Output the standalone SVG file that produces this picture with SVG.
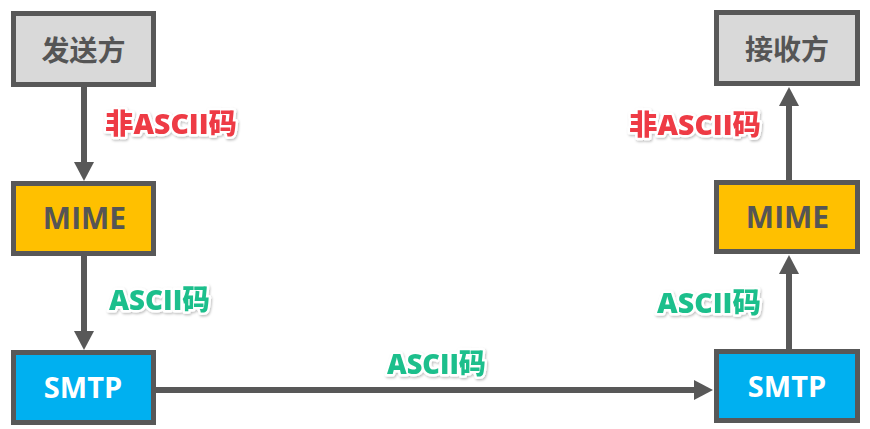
<svg xmlns="http://www.w3.org/2000/svg" width="870" height="429" viewBox="0 0 870 429">
<style>
  .box { stroke: #585858; stroke-width: 5; }
  .gray { fill: #d9d9d9; }
  .orange { fill: #ffc000; }
  .blue { fill: #00b0f0; }
  .nt { font-family: "Open Sans", "Noto Sans CJK SC", sans-serif; font-weight: 700; text-anchor: middle; }
  .dark { fill: #555555; }
  .white { fill: #ffffff; }
  .lbl { font-family: "Open Sans", "Noto Sans CJK SC", sans-serif; font-weight: 800; font-size: 28px; stroke: #ffffff; stroke-width: 5; stroke-linejoin: round; paint-order: stroke; filter: url(#sh); }
  .red { fill: #ee3a45; }
  .green { fill: #1fbf8c; }
  .conn { stroke: #585858; stroke-width: 6; fill: none; marker-end: url(#ah); }
</style>
<defs>
  <marker id="ah" markerUnits="userSpaceOnUse" markerWidth="20" markerHeight="20" refX="10" refY="10" orient="auto" viewBox="0 0 20 20">
    <path d="M0,0 L19,10 L0,20 Z" fill="#585858"/>
  </marker>
  <filter id="sh" x="-10%" y="-30%" width="120%" height="160%">
    <feDropShadow dx="1" dy="1.5" stdDeviation="1.2" flood-color="#000000" flood-opacity="0.25"/>
  </filter>
</defs>
<rect width="870" height="429" fill="#ffffff"/>
<g id="connectors">
  <line class="conn" x1="84" y1="87" x2="84" y2="172"/>
  <line class="conn" x1="84" y1="256" x2="84" y2="341"/>
  <line class="conn" x1="156" y1="390" x2="704" y2="390"/>
  <line class="conn" x1="789" y1="349" x2="789" y2="264"/>
  <line class="conn" x1="789" y1="180" x2="789" y2="96"/>
</g>
<g id="sender">
  <rect class="box gray" x="13.5" y="13.5" width="140" height="71"/>
  <text class="nt dark" x="83.5" y="61" font-size="28">发送方</text>
</g>
<g id="mime-left">
  <rect class="box orange" x="13.5" y="183.5" width="140" height="70"/>
  <text class="nt dark" x="84.5" y="229" font-size="30">MIME</text>
</g>
<g id="smtp-left">
  <rect class="box blue" x="13.5" y="352.5" width="140" height="70"/>
  <text class="nt white" x="83" y="398" font-size="29">SMTP</text>
</g>
<g id="receiver">
  <rect class="box gray" x="716.5" y="12.5" width="141" height="71"/>
  <text class="nt dark" x="787" y="60" font-size="28">接收方</text>
</g>
<g id="mime-right">
  <rect class="box orange" x="716.5" y="182.5" width="141" height="69"/>
  <text class="nt dark" x="787.5" y="228" font-size="30">MIME</text>
</g>
<g id="smtp-right">
  <rect class="box blue" x="716.5" y="351.5" width="141" height="69"/>
  <text class="nt white" x="787" y="397" font-size="29">SMTP</text>
</g>
<g id="labels">
  <text class="lbl red" x="105" y="134" textLength="132" lengthAdjust="spacingAndGlyphs">非ASCII码</text>
  <text class="lbl green" x="109" y="310" textLength="101" lengthAdjust="spacingAndGlyphs">ASCII码</text>
  <text class="lbl green" x="387" y="374" textLength="99" lengthAdjust="spacingAndGlyphs">ASCII码</text>
  <text class="lbl red" x="629" y="135" textLength="132" lengthAdjust="spacingAndGlyphs">非ASCII码</text>
  <text class="lbl green" x="657" y="313" textLength="104" lengthAdjust="spacingAndGlyphs">ASCII码</text>
</g>
</svg>
